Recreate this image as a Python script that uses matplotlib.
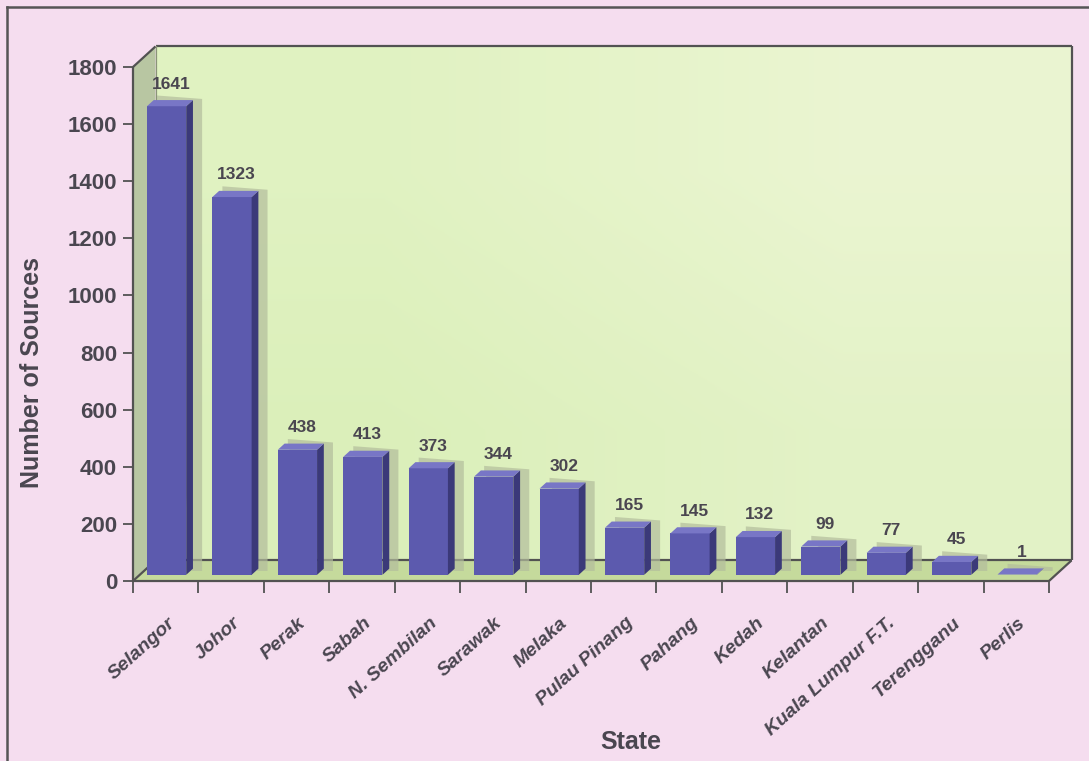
import numpy as np
import matplotlib
matplotlib.use("Agg")
from matplotlib import pyplot as plt
from matplotlib.patches import Polygon
from matplotlib.lines import Line2D

states = ["Selangor", "Johor", "Perak", "Sabah", "N. Sembilan", "Sarawak", "Melaka",
          "Pulau Pinang", "Pahang", "Kedah", "Kelantan", "Kuala Lumpur F.T.",
          "Terengganu", "Perlis"]
sources = [1641, 1323, 438, 413, 373, 344, 302, 165, 145, 132, 99, 77, 45, 1]
y_ticks = [0, 200, 400, 600, 800, 1000, 1200, 1400, 1600, 1800]

PINK = "#f5ddef"
INK = "#4a4650"
EDGE = "#525252"
FRONT = "#5c5aae"
SIDE = "#3b3979"
TOP = "#7876c6"

# depth of the pseudo-3d box, in data units (x: categories, y: sources)
DX = 0.344
DY = 72.0
BAR_D0, BAR_D1 = 0.3, 0.6
BAR_OFF, BAR_W = 0.11, 0.6

plt.rcParams["font.family"] = ["Liberation Sans", "DejaVu Sans"]
plt.rcParams["font.weight"] = "bold"

fig = plt.figure(figsize=(10.89, 7.61), dpi=100, facecolor=PINK)
ax = fig.add_axes([133 / 1089, 180 / 761, 916 / 1089, 514 / 761])
ax.patch.set_visible(False)
for s in ax.spines.values():
    s.set_visible(False)

n = len(states)
top = y_ticks[-1]

# back wall with a soft gradient
grad = np.array([[[0.88, 0.95, 0.76], [0.92, 0.96, 0.82]],
                 [[0.86, 0.94, 0.73], [0.89, 0.95, 0.78]]])
ax.imshow(grad, extent=(DX, n + DX, DY, top + DY), aspect="auto",
          interpolation="bilinear", zorder=0, clip_on=False)
ax.set_xlim(0, n)
ax.set_ylim(0, top)

# floor and left wall
ax.add_patch(Polygon([(0, 0), (n, 0), (n + DX, DY), (DX, DY)],
                     closed=True, fc="#c5da9c", ec="none", zorder=1, clip_on=False))
ax.add_patch(Polygon([(0, 0), (DX, DY), (DX, top + DY), (0, top)],
                     closed=True, fc="#b8c6a2", ec="none", zorder=1, clip_on=False))

# box outline
box_lines = [
    [(0, 0), (0, top)],
    [(0, top), (DX, top + DY)],
    [(DX, top + DY), (n + DX, top + DY)],
    [(n + DX, top + DY), (n + DX, DY)],
    [(DX, DY), (n + DX, DY)],
    [(0, 0), (n, 0)],
    [(n, 0), (n + DX, DY)],
    [(0, 0), (DX, DY)],
]
for (x0, y0), (x1, y1) in box_lines:
    ax.plot([x0, x1], [y0, y1], color=EDGE, lw=1.6, zorder=2, clip_on=False,
            solid_capstyle="butt")
ax.plot([DX, DX], [DY, top + DY], color="#8a9478", lw=0.9, zorder=2, clip_on=False)

# bars: shadow on the wall, front face, side and top faces
for i, v in enumerate(sources):
    xl = i + BAR_OFF + BAR_D0 * DX
    xr = xl + BAR_W
    yb = BAR_D0 * DY
    sx = (BAR_D1 - BAR_D0) * DX
    sy = (BAR_D1 - BAR_D0) * DY

    ax.add_patch(Polygon([(xr + sx - 0.02, yb + sy - 8), (xr + sx + 0.14, yb + sy - 8),
                          (xr + sx + 0.14, v + yb + sy + 4), (xl + sx + 0.05, v + yb + sy + 16),
                          (xl + sx + 0.05, v + yb + sy)],
                         closed=True, fc="#b3bd9c", ec="none", alpha=0.7,
                         zorder=3, clip_on=False))

    ax.bar(xl, v, width=BAR_W, bottom=yb, align="edge", color=FRONT,
           edgecolor="none", zorder=4, clip_on=False)
    ax.add_patch(Polygon([(xr, yb), (xr + sx, yb + sy), (xr + sx, v + yb + sy), (xr, v + yb)],
                         closed=True, fc=SIDE, ec="none", zorder=4, clip_on=False))
    ax.add_patch(Polygon([(xl, v + yb), (xr, v + yb), (xr + sx, v + yb + sy), (xl + sx, v + yb + sy)],
                         closed=True, fc=TOP, ec="none", zorder=4, clip_on=False))

    ax.annotate(str(v), xy=(i + BAR_OFF + BAR_W / 2 + 0.5 * DX, v + 0.5 * DY),
                xytext=(0, 13), textcoords="offset points", ha="center", va="center",
                fontsize=12.5, fontweight="bold", color=INK, zorder=6)

# axes ticks
ax.set_yticks(y_ticks)
ax.set_yticklabels([str(t) for t in y_ticks], fontsize=16, fontweight="bold", color=INK)
ax.tick_params(axis="y", length=7.5, width=1.3, color=EDGE, pad=4)
ax.set_xticks(range(n + 1))
ax.set_xticklabels([])
ax.tick_params(axis="x", length=8.5, width=1.3, color=EDGE)

for i, name in enumerate(states):
    ax.annotate(name, xy=(i + 0.5, 0), xytext=(1, -24), textcoords="offset points",
                rotation=42, rotation_mode="anchor", ha="right", va="top",
                fontsize=14, fontweight="bold", fontstyle="italic", color=INK)

fig.text(32 / 1089, 1 - 372 / 761, "Number of Sources", rotation=90, ha="center",
         va="center", fontsize=18, fontweight="bold", color=INK)
fig.text(631 / 1089, 1 - 742 / 761, "State", ha="center", va="center",
         fontsize=18, fontweight="bold", color=INK)

# page frame
fig.add_artist(Line2D([7 / 1089, 7 / 1089], [0, 1 - 7 / 761], transform=fig.transFigure,
                      color="#555555", lw=1.8))
fig.add_artist(Line2D([7 / 1089, 1], [1 - 7 / 761, 1 - 7 / 761], transform=fig.transFigure,
                      color="#555555", lw=1.8))

fig.savefig("out.png", dpi=100, facecolor=PINK)
